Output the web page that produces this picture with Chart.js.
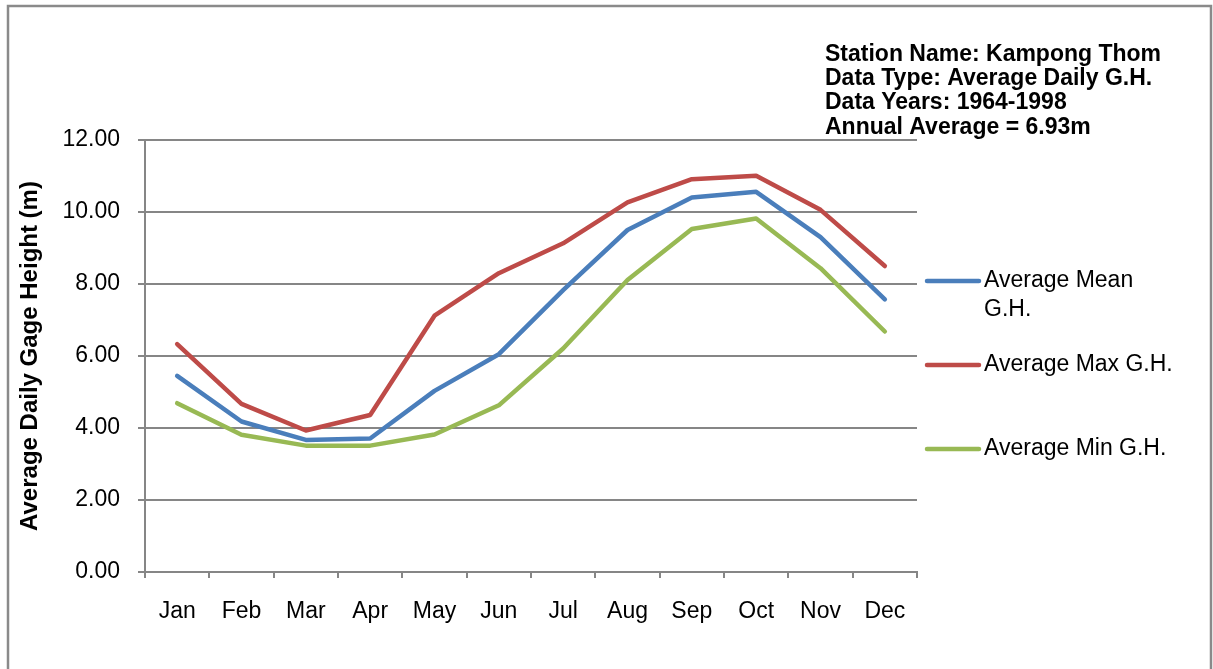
<!DOCTYPE html>
<html>
<head>
<meta charset="utf-8">
<script src="https://cdn.jsdelivr.net/npm/chart.js@4/dist/chart.umd.min.js"></script>
<style>
  html, body { margin: 0; padding: 0; background: #fff; }
  #wrap { width: 1213px; height: 669px; }
</style>
</head>
<body>
<div id="wrap"><canvas id="gh" width="1213" height="669"></canvas></div>
<script>
// month labels and the three gauge height series (m)
const months = ['Jan', 'Feb', 'Mar', 'Apr', 'May', 'Jun', 'Jul', 'Aug', 'Sep', 'Oct', 'Nov', 'Dec'];
const meanGH = [5.45, 4.18, 3.67, 3.71, 5.03, 6.05, 7.83, 9.50, 10.40, 10.56, 9.30, 7.57];
const maxGH  = [6.33, 4.67, 3.93, 4.36, 7.12, 8.30, 9.13, 10.27, 10.91, 11.01, 10.06, 8.50];
const minGH  = [4.69, 3.81, 3.51, 3.51, 3.82, 4.63, 6.21, 8.11, 9.53, 9.82, 8.44, 6.68];
const infoLines = [
  'Station Name: Kampong Thom',
  'Data Type: Average Daily G.H.',
  'Data Years: 1964-1998',
  'Annual Average = 6.93m'
];

const FONT = '"Liberation Sans", Arial, sans-serif';
const GRID = '#868686';

// white page + grey frame round the whole chart
const frame = {
  id: 'frame',
  beforeDraw(chart) {
    const c = chart.ctx;
    c.save();
    c.fillStyle = '#fff';
    c.fillRect(0, 0, chart.width, chart.height);
    c.strokeStyle = '#8a8a8a';
    c.lineWidth = 2.5;
    c.strokeRect(8, 6, 1203, 700);
    c.restore();
  }
};

// station text top right and the legend on the right side
const extras = {
  id: 'extras',
  afterDraw(chart) {
    const c = chart.ctx;
    c.save();
    c.fillStyle = '#000';
    c.textAlign = 'left';
    c.textBaseline = 'alphabetic';
    c.font = 'bold 23px ' + FONT;
    infoLines.forEach((t, i) => c.fillText(t, 825, 61 + i * 24.2));

    const rows = [
      { y: 281, lines: ['Average Mean', 'G.H.'] },
      { y: 365, lines: ['Average Max G.H.'] },
      { y: 449, lines: ['Average Min G.H.'] }
    ];
    c.font = '23px ' + FONT;
    c.textBaseline = 'middle';
    chart.data.datasets.forEach((ds, i) => {
      const r = rows[i];
      c.strokeStyle = ds.borderColor;
      c.lineWidth = 4.5;
      c.lineCap = 'round';
      c.beginPath();
      c.moveTo(927, r.y);
      c.lineTo(979, r.y);
      c.stroke();
      r.lines.forEach((t, k) => c.fillText(t, 984, r.y + k * 29));
    });
    c.restore();
  }
};

new Chart(document.getElementById('gh'), {
  type: 'line',
  data: {
    labels: months,
    datasets: [
      { label: 'Average Mean G.H.', data: meanGH, borderColor: '#4a7ebb' },
      { label: 'Average Max G.H.', data: maxGH, borderColor: '#be4b48' },
      { label: 'Average Min G.H.', data: minGH, borderColor: '#98b954' }
    ]
  },
  options: {
    responsive: false,
    animation: false,
    layout: { padding: { left: 0, top: 140, right: 296, bottom: 0 } },
    elements: {
      line: { borderWidth: 4.5, tension: 0, borderCapStyle: 'round', borderJoinStyle: 'round' },
      point: { radius: 0, hoverRadius: 0 }
    },
    plugins: {
      legend: { display: false },
      tooltip: { enabled: false }
    },
    scales: {
      x: {
        offset: true,
        afterFit(s) { s.height = 97; },
        grid: { offset: true, drawOnChartArea: false, drawTicks: true, tickLength: 6, color: GRID, lineWidth: 2 },
        border: { color: GRID, width: 2 },
        ticks: { color: '#000', font: { family: FONT, size: 23 }, padding: 20, autoSkip: false, maxRotation: 0 }
      },
      y: {
        min: 0,
        max: 12,
        afterFit(s) { s.width = 145; },
        grid: { color: GRID, lineWidth: 2, tickLength: 7 },
        border: { color: GRID, width: 2 },
        ticks: {
          stepSize: 2,
          color: '#000',
          padding: 18,
          font: { family: FONT, size: 23 },
          callback: v => v.toFixed(2)
        },
        title: {
          display: true,
          text: 'Average Daily Gage Height (m)',
          color: '#000',
          font: { family: FONT, size: 24, weight: 'bold' },
          padding: { top: 16, bottom: 0 }
        }
      }
    }
  },
  plugins: [frame, extras]
});
</script>
</body>
</html>
